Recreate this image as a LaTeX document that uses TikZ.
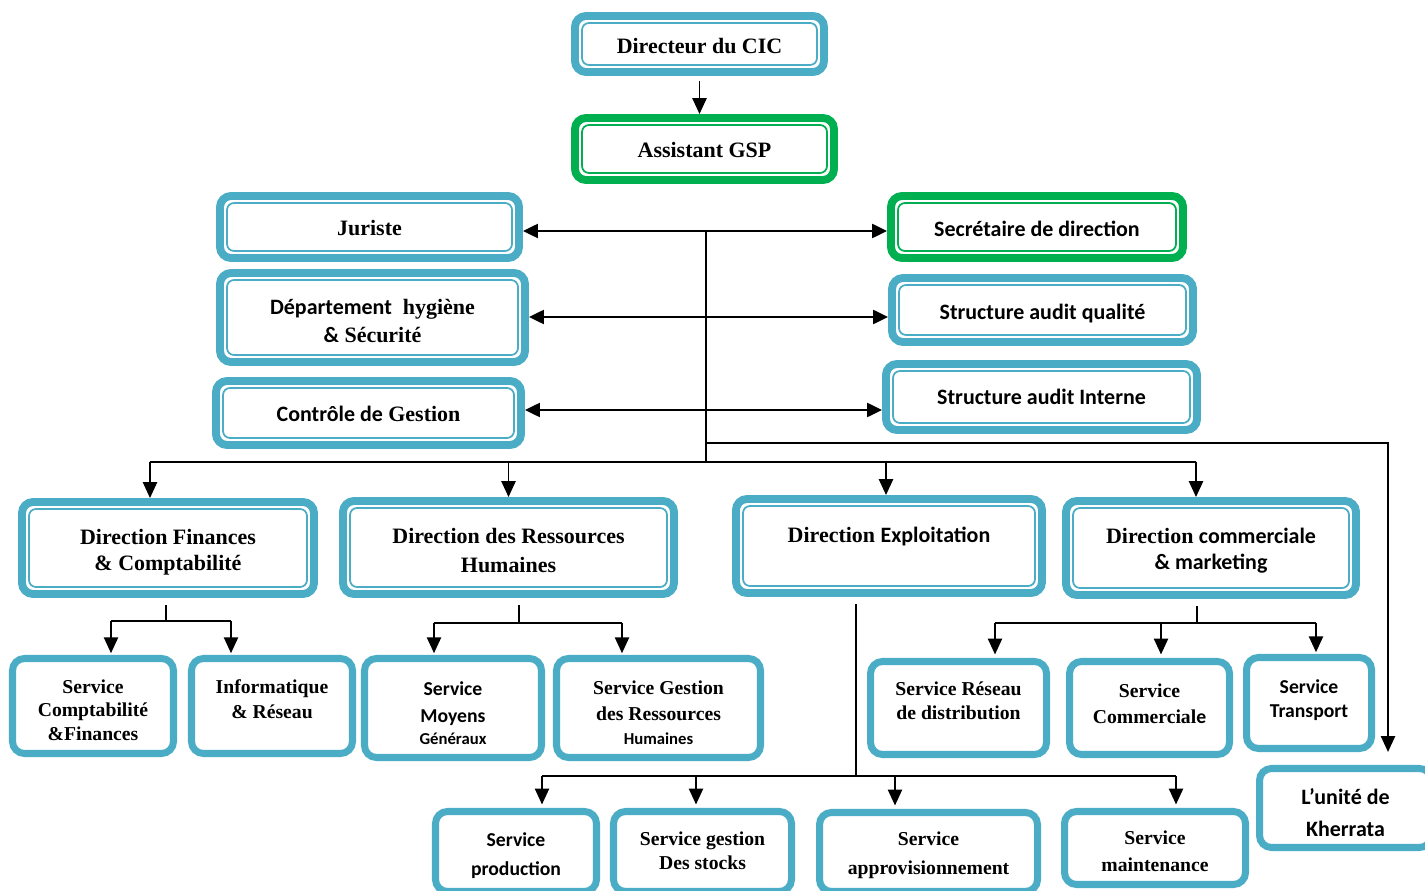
\documentclass[tikz,border=0pt]{standalone}
\usepackage{fontspec}
\setmainfont{Liberation Serif}
\newfontfamily\calib{Carlito}
\usetikzlibrary{arrows.meta}

\definecolor{boxblue}{RGB}{75,172,198}
\definecolor{boxgreen}{RGB}{0,176,80}

\tikzset{
  fT/.style={font=\fontsize{12.5}{15}\selectfont\bfseries},
  fC/.style={font=\calib\fontsize{12.5}{15}\selectfont\bfseries},
  sT/.style={font=\fontsize{11.2}{13.5}\selectfont\bfseries},
  sC/.style={font=\calib\fontsize{11.2}{13.5}\selectfont\bfseries},
  % double framed box: thick outer frame, thin inner frame
  dbox/.style={draw=#1, line width=4.5pt, rounded corners=0.22cm, fill=white,
    inner sep=1pt, fT,
    path picture={\draw[#1, line width=1pt, rounded corners=0.14cm]
      ([shift={(0.14cm,-0.14cm)}]path picture bounding box.north west) rectangle
      ([shift={(-0.14cm,0.14cm)}]path picture bounding box.south east);}},
  % single framed box for the services
  sbox/.style={draw=boxblue, line width=4pt, rounded corners=0.24cm, fill=white,
    inner sep=1pt, sT},
  link/.style={line width=1.1pt, black},
  arr/.style={link, -{Triangle[length=9pt,width=8pt]}},
  biarr/.style={link, {Triangle[length=8.5pt,width=8pt]}-{Triangle[length=8.5pt,width=8pt]}},
}

% centred lines of text, moved up or down inside the box
\newcommand\lift[2]{\raisebox{#1}[\height][\depth]{\begin{tabular}{@{}c@{}}#2\end{tabular}}}

% #1 options, #2 colour, #3 name, #4..#7 outer edges x1 y1 x2 y2, #8 text
\newcommand\dbx[8][]{\node[dbox=#2, minimum width={(#6-#4-8)*0.02cm},
  minimum height={(#7-#5-8)*0.02cm}, #1] (#3) at ({(#4+#6)/2},{(#5+#7)/2}) {#8};}
% #1 options, #2 name, #3..#6 outer edges x1 y1 x2 y2, #7 text
\newcommand\sbx[7][]{\node[sbox, minimum width={(#5-#3-7)*0.02cm},
  minimum height={(#6-#4-7)*0.02cm}, #1] (#2) at ({(#3+#5)/2},{(#4+#6)/2}) {#7};}

\begin{document}
\begin{tikzpicture}[x=0.02cm, y=-0.02cm]
\useasboundingbox (0,0) rectangle (1425,891);

% top of the hierarchy
\dbx{boxblue}{dir}{571}{12}{828}{76}{\lift{-2.3pt}{Directeur du CIC}}
\dbx{boxgreen}{gsp}{571}{114}{838}{184}{\lift{-1.7pt}{Assistant GSP}}

% staff functions
\dbx{boxblue}{jur}{216}{192}{523}{262}{\lift{-1.7pt}{Juriste}}
\dbx{boxblue}{hyg}{216}{269}{529}{366}{\lift{-3.4pt}{{\calib Département}\ \ hygiène\\[1pt] {\calib\&} Sécurité}}
\dbx{boxblue}{cdg}{212}{377}{525}{449}{\lift{-1.7pt}{{\calib Contrôle de} Gestion}}
\dbx[fC]{boxgreen}{sec}{887}{192}{1187}{262}{\lift{-2.3pt}{Secrétaire de direction}}
\dbx[fC]{boxblue}{saq}{888}{274}{1197}{346}{\lift{-2.3pt}{Structure audit qualité}}
\dbx[fC]{boxblue}{sai}{882}{360}{1201}{434}{\lift{-1.1pt}{Structure audit Interne}}

% directions
\dbx{boxblue}{dfc}{18}{498}{318}{598}{\lift{-2.3pt}{Direction Finances\\ \& Comptabilité}}
\dbx{boxblue}{drh}{339}{497}{678}{598}{\lift{-2.8pt}{Direction des Ressources\\[1.5pt] Humaines}}
\dbx{boxblue}{dex}{732}{495}{1046}{597}{\lift{-2.3pt}{Direction {\calib Exploitation}\\ \mbox{}}}
\dbx{boxblue}{dcm}{1062}{497}{1360}{599}{\lift{-1.7pt}{Direction {\calib commerciale}\\ {\calib\& marketing}}}

% services
\sbx{scf}{9}{655}{177}{757}{\lift{-3.4pt}{Service\\ Comptabilité\\ \&Finances}}
\sbx{inf}{188}{655}{356}{757}{\lift{2.8pt}{Informatique\\[1pt] \& Réseau}}
\sbx[sC]{smg}{361}{655}{545}{761}{\lift{-4pt}{Service\\[2pt] Moyens\\[-1pt] \fontsize{9.5}{11}\selectfont Généraux}}
\sbx{sgr}{553}{655}{764}{761}{\lift{-3.9pt}{Service Gestion\\[1.5pt] des Ressources\\ \calib\fontsize{9.5}{11}\selectfont Humaines}}
\sbx{srd}{867}{658}{1050}{758}{\lift{2.8pt}{Service Réseau\\ de distribution}}
\sbx{scm}{1066}{658}{1233}{758}{\lift{1.2pt}{Service\\[1pt] Commercial{\calib e}}}
\sbx[sC]{str}{1243}{654}{1375}{752}{\lift{1.1pt}{Service\\ Transport}}
\sbx[fC]{khe}{1256}{765}{1435}{851}{\lift{-4pt}{L’unité de\\[3pt] Kherrata}}
\sbx[sC]{spr}{432}{808}{600}{895}{\lift{-2.8pt}{Service\\[3pt] production}}
\sbx{sgs}{610}{808}{795}{895}{\lift{-0.6pt}{Service gestion\\ Des stocks}}
\sbx{sap}{816}{809}{1041}{895}{\lift{-1.7pt}{Service\\[3pt] approvisionnement}}
\sbx{smt}{1061}{808}{1249}{888}{\lift{-3.1pt}{Service\\[2pt] maintenance}}

% director to assistant
\draw[arr, shorten <=3pt] (dir.south) -- (dir.south |- gsp.north);

% central spine and staff links
\coordinate (hub) at (706,231);
\coordinate (h2) at (706,317);
\coordinate (h3) at (706,410);
\coordinate (kt) at (706,443);
\coordinate (bus) at (706,462);
\draw[link] (hub) -- (bus);
\draw[biarr] (jur.east |- hub) -- (sec.west |- hub);
\draw[biarr] (hyg.east |- h2) -- (saq.west |- h2);
\draw[biarr] (cdg.east |- h3) -- (sai.west |- h3);

% branch to the Kherrata unit
\coordinate (kc) at (1388,443);
\draw[arr, shorten >=0.26cm] (kt) -- (kc) -- (kc |- khe.north);

% bus to the directions
\coordinate (bw) at (150,462);
\coordinate (bx) at (886,462);
\coordinate (be) at (1196,462);
\draw[link] (bw) -- (be);
\draw[arr] (bw) -- (bw |- dfc.north);
\draw[arr] (bus -| drh.north) -- (drh.north);
\draw[arr] (bx) -- (bx |- dex.north);
\draw[arr] (be) -- (be |- dcm.north);

% finances services
\coordinate (fj) at (166,621);
\coordinate (fl) at (111,621);
\coordinate (fr) at (231,621);
\draw[link, shorten <=0.14cm] (fj |- dfc.south) -- (fj);
\draw[link] (fl) -- (fr);
\draw[arr, shorten >=1pt] (fl) -- (fl |- scf.north);
\draw[arr, shorten >=1pt] (fr) -- (fr |- inf.north);

% human resources services
\coordinate (rj) at (519,623);
\coordinate (rl) at (434,623);
\coordinate (rr) at (622,623);
\draw[link, shorten <=0.14cm] (rj |- drh.south) -- (rj);
\draw[link] (rl) -- (rr);
\draw[arr, shorten >=1pt] (rl) -- (rl |- smg.north);
\draw[arr, shorten >=1pt] (rr) -- (rr |- sgr.north);

% commercial services
\coordinate (cj) at (1197,623);
\coordinate (cl) at (995,623);
\coordinate (cm) at (1161,623);
\coordinate (cr) at (1316,623);
\draw[link, shorten <=0.14cm] (cj |- dcm.south) -- (cj);
\draw[link] (cl) -- (cr);
\draw[arr, shorten >=2pt] (cl) -- (cl |- srd.north);
\draw[arr, shorten >=2pt] (cm) -- (cm |- scm.north);
\draw[arr, shorten >=1pt] (cr) -- (cr |- str.north);

% exploitation services
\coordinate (ej) at (856,776);
\coordinate (e1) at (542,776);
\coordinate (e2) at (696,776);
\coordinate (e3) at (895,776);
\coordinate (e4) at (1176,776);
\draw[link, shorten <=0.14cm] (ej |- dex.south) -- (ej);
\draw[link] (e1) -- (e4);
\draw[arr, shorten >=2pt] (e1) -- (e1 |- spr.north);
\draw[arr, shorten >=2pt] (e2) -- (e2 |- sgs.north);
\draw[arr, shorten >=2pt] (e3) -- (e3 |- sap.north);
\draw[arr, shorten >=2pt] (e4) -- (e4 |- smt.north);
\end{tikzpicture}
\end{document}
